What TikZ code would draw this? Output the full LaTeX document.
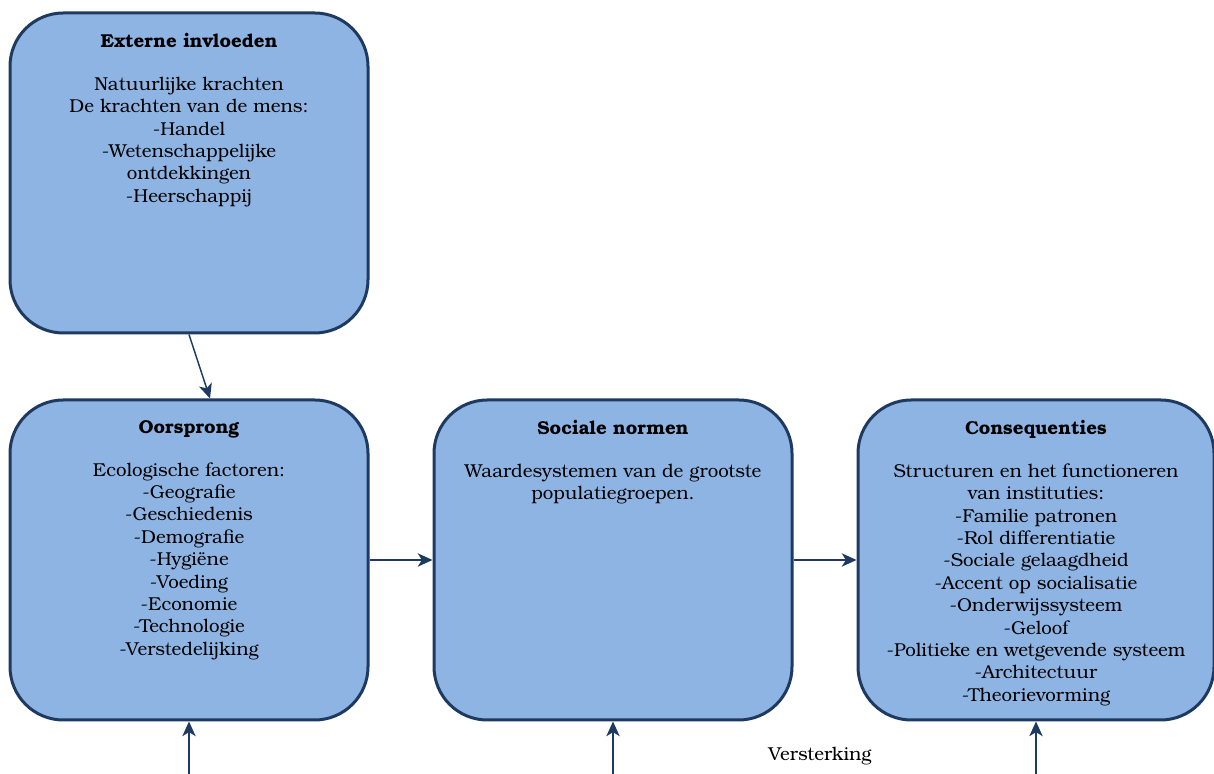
\documentclass[tikz,border=0pt]{standalone}
\usepackage{fontspec}
\setmainfont{TeX Gyre Bonum}
\usetikzlibrary{arrows.meta}
\definecolor{boxfill}{HTML}{8EB4E3}
\definecolor{boxline}{HTML}{1F3A60}
\definecolor{arrowc}{HTML}{1F3A60}
\newcommand{\boxtxt}[3]{\parbox[c][240pt][t]{#1}{\centering\fontsize{14}{16.8}\selectfont\vspace*{15.5pt}\textbf{#2}\\[15pt]#3\par}}
\tikzset{
  box/.style={draw=boxline, line width=2.25pt, fill=boxfill, rounded corners=40pt, inner sep=0pt, minimum height=240pt},
  conn/.style={draw=arrowc, line width=1.1pt, -{Stealth[length=11pt,width=10pt,inset=3pt]}},
  lbl/.style={inner sep=0pt, font=\fontsize{14}{16.8}\selectfont}
}
\begin{document}
\begin{tikzpicture}[x=0.75pt,y=0.75pt]
\useasboundingbox (0,0) rectangle (1214,774);
\node[box, minimum width=268.5pt] (ext) at (189,601) {\boxtxt{268.5pt}{Externe invloeden}{Natuurlijke krachten\\De krachten van de mens:\\-Handel\\-Wetenschappelijke\\ontdekkingen\\-Heerschappij}};
\node[box, minimum width=268.5pt] (oors) at (189,214) {\boxtxt{268.5pt}{Oorsprong}{Ecologische factoren:\\-Geografie\\-Geschiedenis\\-Demografie\\-Hygiëne\\-Voeding\\-Economie\\-Technologie\\-Verstedelijking}};
\node[box, minimum width=268.5pt] (soc) at (613,214) {\boxtxt{268.5pt}{Sociale normen}{Waardesystemen van de grootste\\populatiegroepen.}};
\node[box, minimum width=267pt] (cons) at (1036,214) {\boxtxt{267pt}{Consequenties}{Structuren en het functioneren\\van instituties:\\-Familie patronen\\-Rol differentiatie\\-Sociale gelaagdheid\\-Accent op socialisatie\\-Onderwijssysteem\\-Geloof\\-Politieke en wetgevende systeem\\-Architectuur\\-Theorievorming}};
\node[lbl] (vers) at (820,18) {Versterking};
\coordinate (b1) at (189,0);
\coordinate (b2) at (613,0);
\coordinate (b3) at (1036,0);
\draw[conn] (ext.south) -- ([xshift=15.75pt]oors.north);
\draw[conn] (oors.east) -- (soc.west);
\draw[conn] (soc.east) -- (cons.west);
\draw[conn] (b1) -- (oors.south);
\draw[conn] (b2) -- (soc.south);
\draw[conn] (b3) -- (cons.south);
\end{tikzpicture}
\end{document}
